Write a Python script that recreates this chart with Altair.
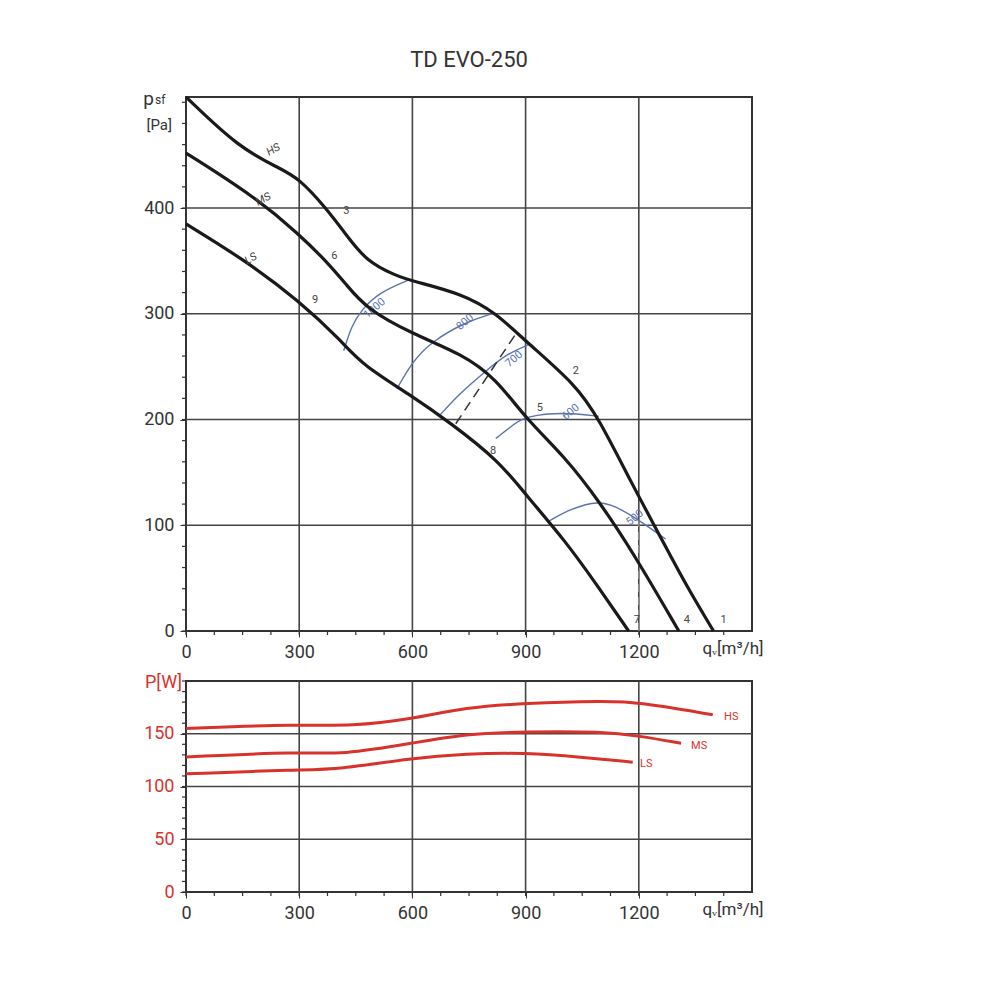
import altair as alt
import pandas as pd

FONT = "Roboto"
GRID = "#444444"
BLUE = "#5a72b0"
RED = "#d8322c"

# pressure curves (qv m3/h, psf Pa)
hs_q = [0, 140, 246, 300, 371, 424, 477, 556, 600, 731, 821, 900, 1033, 1094, 1182, 1253, 1324, 1398]
hs_p = [505, 457, 438, 428, 400, 375, 350, 336, 331, 319, 301, 274, 233, 201, 139, 92, 44, 0]
ms_q = [0, 185, 300, 371, 424, 477, 600, 731, 821, 900, 1006, 1094, 1182, 1306]
ms_p = [452, 410, 375, 350, 328, 305, 281, 262, 239, 201, 164, 123, 76, 0]
ls_q = [0, 159, 300, 413, 466, 600, 700, 829, 900, 1006, 1094, 1173]
ls_p = [385, 350, 312, 274, 252, 222, 197, 161, 129, 85, 41, 0]

# iso lines (blue)
iso = {
    "1000": ([418, 439, 466, 511, 590], [265, 289, 304, 320, 332]),
    "800": ([559, 600, 652, 740, 811], [229, 255, 274, 292, 300]),
    "700": ([670, 723, 795, 850, 909], [203, 224, 246, 262, 271]),
    "600": ([821, 870, 900, 1000, 1094], [182, 196, 203, 207, 203]),
    "500": ([962, 1022, 1094, 1139, 1200, 1271], [104, 116, 123, 118, 105, 87]),
}
iso_lab_q = [500, 740, 870, 1020, 1190]
iso_lab_p = [305, 292, 257, 207, 107]
iso_lab_t = ["1000", "800", "700", "600", "500"]

pt_t = ["3", "6", "9", "2", "5", "8", "1", "4", "7"]
pt_q = [425, 393, 342, 1033, 938, 814, 1425, 1327, 1195]
pt_p = [397, 355, 313, 246, 211, 170, 10, 10, 10]

sp_t = ["HS", "MS", "LS"]
sp_q = [232, 205, 172]
sp_p = [455, 408, 352]

# power curves (qv, W)
phs_q = [0, 300, 437, 600, 741, 900, 1106, 1200, 1396]
phs_w = [155, 159, 157, 164, 175, 179, 181, 180, 168]
pms_q = [0, 300, 413, 600, 741, 900, 1106, 1200, 1312]
pms_w = [128, 133, 130, 141, 150, 152, 152, 148, 141]
pls_q = [0, 300, 401, 600, 741, 900, 1046, 1184]
pls_w = [112, 116, 116, 127, 131, 132, 128, 123]
plab_t = ["HS", "MS", "LS"]
plab_q = [1445, 1360, 1220]
plab_w = [166, 138, 121]

xmajor = [0, 300, 600, 900, 1200]
xminor = list(range(0, 1500, 75))
p_minor = list(range(0, 501, 20))
w_minor = list(range(0, 201, 10))

W, H1, H2 = 566, 534, 211


def axes(y_dom, y_vals, ycol, label_color):
    xs = alt.X("q:Q", scale=alt.Scale(domain=[0, 1500], nice=False),
               axis=alt.Axis(values=xmajor, grid=False, title=None, format="d", labelOverlap=False,
                             labelFont=FONT, labelFontSize=18, labelColor="#333", tickColor="#333",
                             tickSize=6, domain=False, labelPadding=6, labelFlush=False))
    ys = alt.Y(f"{ycol}:Q", scale=alt.Scale(domain=y_dom, nice=False),
               axis=alt.Axis(values=y_vals, grid=False, title=None, format="d", labelOverlap=False,
                             labelFont=FONT, labelFontSize=18,
                             labelColor=label_color, tickColor="#333", tickSize=6, domain=False,
                             labelPadding=6))
    return xs, ys


def minor_ticks(ycol, yvals, h):
    xt = alt.Chart(pd.DataFrame({"q": xminor})).mark_rule(color="#333", strokeWidth=1.2).encode(
        x="q:Q", y=alt.value(h), y2=alt.value(h + 4))
    yt = alt.Chart(pd.DataFrame({ycol: yvals})).mark_rule(color="#333", strokeWidth=1.2).encode(
        y=f"{ycol}:Q", x=alt.value(-4), x2=alt.value(0))
    return xt + yt


# ---------------- top chart ----------------
top_rows = []
for name, q, p in [("HS", hs_q, hs_p), ("MS", ms_q, ms_p), ("LS", ls_q, ls_p)]:
    for i, (a, b) in enumerate(zip(q, p)):
        top_rows.append({"s": name, "q": a, "p": b, "o": i})
top = pd.DataFrame(top_rows)

iso_rows = []
for name, (q, p) in iso.items():
    for i, (a, b) in enumerate(zip(q, p)):
        iso_rows.append({"s": name, "q": a, "p": b, "o": i})
iso_df = pd.DataFrame(iso_rows)

xs, ys = axes([0, 505], [0, 100, 200, 300, 400], "p", "#333")

vgrid = alt.Chart(pd.DataFrame({"q": [300, 600, 900, 1200]})).mark_rule(color=GRID, strokeWidth=1.6).encode(x=alt.X("q:Q"))
hgrid = alt.Chart(pd.DataFrame({"p": [100, 200, 300, 400]})).mark_rule(color=GRID, strokeWidth=1.6).encode(y=alt.Y("p:Q"))

curves = alt.Chart(top).mark_line(color="#1a1a1a", strokeWidth=3.2, interpolate="basis").encode(
    x="q:Q", y="p:Q", detail="s:N", order="o:Q")
isos = alt.Chart(iso_df).mark_line(color=BLUE, strokeWidth=1.4, interpolate="basis").encode(
    x="q:Q", y="p:Q", detail="s:N", order="o:Q")
iso_txt = alt.Chart(pd.DataFrame({"q": iso_lab_q, "p": iso_lab_p, "t": iso_lab_t})).mark_text(
    color=BLUE, font=FONT, fontSize=11, angle=320).encode(x="q:Q", y="p:Q", text="t:N")
dash = alt.Chart(pd.DataFrame({"q": [715], "p": [196], "q2": [874], "p2": [281]})).mark_rule(
    color="#333", strokeDash=[10, 6], strokeWidth=1.5).encode(x="q:Q", y="p:Q", x2="q2:Q", y2="p2:Q")
vdash = alt.Chart(pd.DataFrame({"q": [1200], "p": [0], "p2": [104]})).mark_rule(
    color="#888", strokeDash=[8, 5], strokeWidth=1.5).encode(x="q:Q", y="p:Q", y2="p2:Q")
pts = alt.Chart(pd.DataFrame({"q": pt_q, "p": pt_p, "t": pt_t})).mark_text(
    color="#444", font=FONT, fontSize=11).encode(x="q:Q", y="p:Q", text="t:N")
sps = alt.Chart(pd.DataFrame({"q": sp_q, "p": sp_p, "t": sp_t})).mark_text(
    color="#444", font=FONT, fontSize=11, fontStyle="italic", angle=330).encode(x="q:Q", y="p:Q", text="t:N")
ylab_p = alt.Chart(pd.DataFrame({"t": ["p"]})).mark_text(
    font=FONT, fontSize=19, color="#333", align="right").encode(x=alt.value(-32), y=alt.value(2), text="t:N")
ylab_sf = alt.Chart(pd.DataFrame({"t": ["sf"]})).mark_text(
    font=FONT, fontSize=12, color="#333", align="left").encode(x=alt.value(-31), y=alt.value(3), text="t:N")
ylab_pa = alt.Chart(pd.DataFrame({"t": ["[Pa]"]})).mark_text(
    font=FONT, fontSize=15, color="#333", align="right").encode(x=alt.value(-14), y=alt.value(28), text="t:N")
xlab_top = alt.Chart(pd.DataFrame({"t": ["qᵥ[m³/h]"]})).mark_text(
    font=FONT, fontSize=17, color="#333", align="left").encode(
    x=alt.value(W * 1395 / 1500 - 10), y=alt.value(H1 + 18), text="t:N")

top_chart = alt.layer(alt.Chart(top).mark_point(opacity=0).encode(xs, ys), minor_ticks("p", p_minor, H1),
                      vgrid, hgrid, isos, iso_txt,
                      dash, vdash, curves, pts, sps, ylab_p, ylab_sf, ylab_pa, xlab_top).properties(
    width=W, height=H1,
    title=alt.TitleParams("TD EVO-250", font=FONT, fontSize=22, fontWeight="normal", color="#333", offset=18))

# ---------------- bottom chart ----------------
bot_rows = []
for name, q, w in [("HS", phs_q, phs_w), ("MS", pms_q, pms_w), ("LS", pls_q, pls_w)]:
    for i, (a, b) in enumerate(zip(q, w)):
        bot_rows.append({"s": name, "q": a, "w": b, "o": i})
bot = pd.DataFrame(bot_rows)

xs2, ys2 = axes([0, 200], [0, 50, 100, 150], "w", RED)
hgrid2 = alt.Chart(pd.DataFrame({"w": [50, 100, 150]})).mark_rule(color=GRID, strokeWidth=1.6).encode(y=alt.Y("w:Q"))
pcurves = alt.Chart(bot).mark_line(color=RED, strokeWidth=3, interpolate="basis").encode(
    x="q:Q", y="w:Q", detail="s:N", order="o:Q")
plabs = alt.Chart(pd.DataFrame({"q": plab_q, "w": plab_w, "t": plab_t})).mark_text(
    color=RED, font=FONT, fontSize=11).encode(x="q:Q", y="w:Q", text="t:N")
ylab_bot = alt.Chart(pd.DataFrame({"t": ["P[W]"]})).mark_text(
    font=FONT, fontSize=18, color=RED, align="right").encode(x=alt.value(-4), y=alt.value(2), text="t:N")
xlab_bot = alt.Chart(pd.DataFrame({"t": ["qᵥ[m³/h]"]})).mark_text(
    font=FONT, fontSize=17, color="#333", align="left").encode(
    x=alt.value(W * 1395 / 1500 - 10), y=alt.value(H2 + 18), text="t:N")

bot_chart = alt.layer(alt.Chart(bot).mark_point(opacity=0).encode(xs2, ys2), minor_ticks("w", w_minor, H2),
                      vgrid, hgrid2, pcurves,
                      plabs, ylab_bot, xlab_bot).properties(width=W, height=H2)

chart = alt.vconcat(top_chart, bot_chart, spacing=11).properties(
    padding={"left": 134, "top": 40, "right": 20, "bottom": 10}
).configure_view(stroke="#333", strokeWidth=2).configure_title(anchor="middle")

chart.save("out.html", embed_options={"renderer": "svg", "actions": False})
